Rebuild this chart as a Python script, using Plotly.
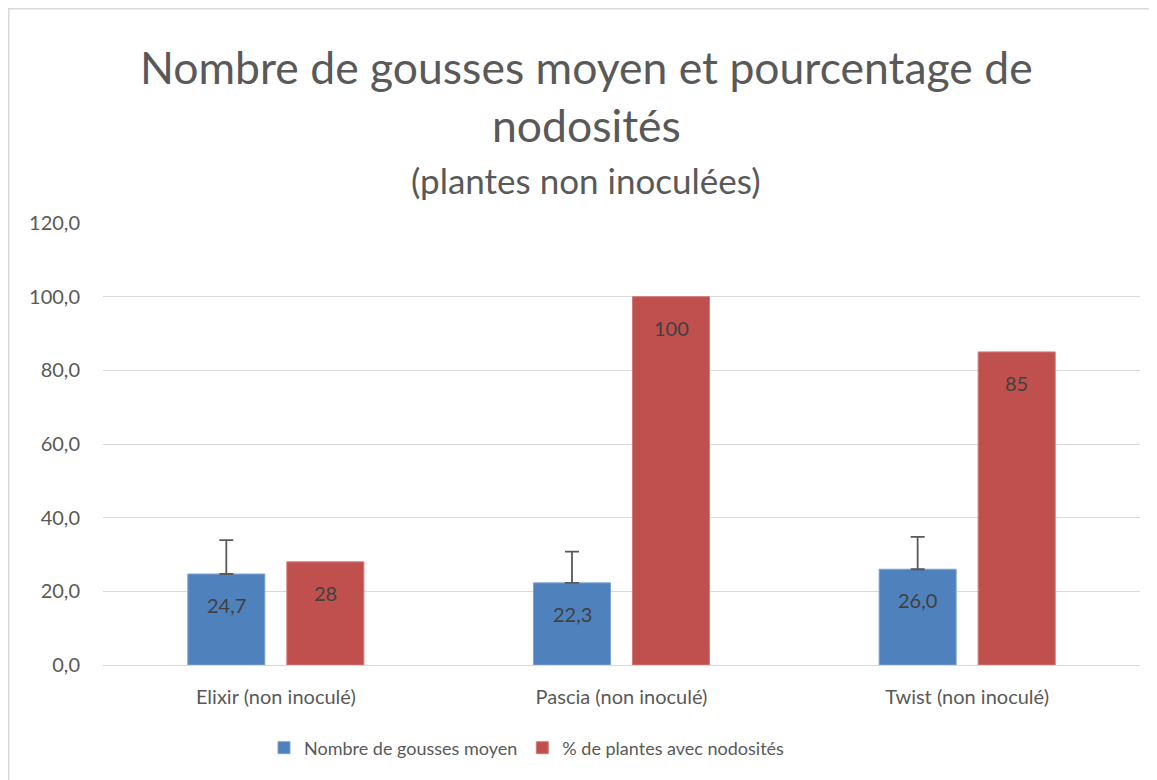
import plotly.graph_objects as go

categories = ["Elixir (non inoculé)", "Pascia (non inoculé)", "Twist (non inoculé)"]
gousses = [24.7, 22.3, 26.0]
gousses_err_plus = [9.2, 8.5, 8.8]
nodosites = [28, 100, 85]
gousses_labels = ["24,7", "22,3", "26,0"]
nodosites_labels = ["28", "100", "85"]
y_ticks = [0, 20, 40, 60, 80, 100, 120]
y_tick_labels = ["0,0", "20,0", "40,0", "60,0", "80,0", "100,0", "120,0"]

FONT = "Lato, 'Open Sans', sans-serif"
GREY = "#595959"

OFF = 8  # page body margin
W, H = 1157 - OFF, 780 - OFF
ML, MR, MT, MB = 103 - OFF, 17, 223 - OFF, 115
PW, PH = W - ML - MR, H - MT - MB
BOTTOM = H - MB  # figure pixel of y=0


def px_x(page_x):
    return (page_x - OFF - ML) / PW


def px_y(page_y):
    return (BOTTOM - (page_y - OFF)) / PH


fig = go.Figure()
fig.add_trace(go.Bar(
    name="Nombre de gousses moyen", x=categories, y=gousses,
    marker=dict(color="#4F81BD", line=dict(color="#7FA3D0", width=1)),
    error_y=dict(type="data", symmetric=False, array=gousses_err_plus,
                 arrayminus=[0] * len(gousses), color=GREY, thickness=1.8, width=7),
))
fig.add_trace(go.Bar(
    name="% de plantes avec nodosités", x=categories, y=nodosites,
    marker=dict(color="#C0504D", line=dict(color="#D27A77", width=1)),
))

annotations = []
for i, c in enumerate(categories):
    annotations.append(dict(x=c, y=gousses[i], xref="x", yref="y", text=gousses_labels[i],
                            showarrow=False, xshift=-49.5, yshift=-31,
                            font=dict(family=FONT, size=20, color="#404040")))
    annotations.append(dict(x=c, y=nodosites[i], xref="x", yref="y", text=nodosites_labels[i],
                            showarrow=False, xshift=49.5, yshift=-31,
                            font=dict(family=FONT, size=20, color="#404040")))

cx = px_x(586)
annotations.append(dict(x=cx, y=px_y(67), xref="paper", yref="paper",
                        text="Nombre de gousses moyen et pourcentage de", showarrow=False,
                        xanchor="center", yanchor="middle",
                        font=dict(family=FONT, size=44.5, color=GREY)))
annotations.append(dict(x=cx, y=px_y(125), xref="paper", yref="paper",
                        text="nodosités", showarrow=False,
                        xanchor="center", yanchor="middle",
                        font=dict(family=FONT, size=44.5, color=GREY)))
annotations.append(dict(x=cx, y=px_y(180), xref="paper", yref="paper",
                        text="(plantes non inoculées)", showarrow=False,
                        xanchor="center", yanchor="middle",
                        font=dict(family=FONT, size=35, color=GREY)))

fig.update_layout(
    width=W, height=H,
    margin=dict(l=ML, r=MR, t=MT, b=MB),
    paper_bgcolor="white", plot_bgcolor="white",
    barmode="group", bargap=0.427, bargroupgap=0.222,
    font=dict(family=FONT, color=GREY, size=20),
    showlegend=True,
    legend=dict(orientation="h", x=px_x(527), xanchor="center",
                y=px_y(748), yanchor="middle",
                font=dict(family=FONT, size=18, color=GREY),
                itemwidth=30, tracegroupgap=0),
    annotations=annotations,
    shapes=[dict(type="rect", xref="paper", yref="paper",
                 x0=(0.75 - ML) / PW, x1=(W + 20 - ML) / PW,
                 y0=-(H + 20 - BOTTOM) / PH, y1=(BOTTOM - 0.75) / PH,
                 line=dict(color="#D9D9D9", width=1.5), fillcolor="rgba(0,0,0,0)", layer="below")],
)
fig.update_yaxes(range=[0, 120], tickvals=y_ticks, ticktext=y_tick_labels,
                 showgrid=True, gridcolor="#D9D9D9", gridwidth=1.2,
                 zeroline=True, zerolinecolor="#D9D9D9", zerolinewidth=1.2,
                 showline=False, ticklabelstandoff=22,
                 tickfont=dict(family=FONT, size=20, color=GREY))
fig.update_xaxes(showgrid=False, showline=False, ticks="",
                 ticklabelstandoff=18,
                 tickfont=dict(family=FONT, size=20, color=GREY))

fig.write_html("out.html")
